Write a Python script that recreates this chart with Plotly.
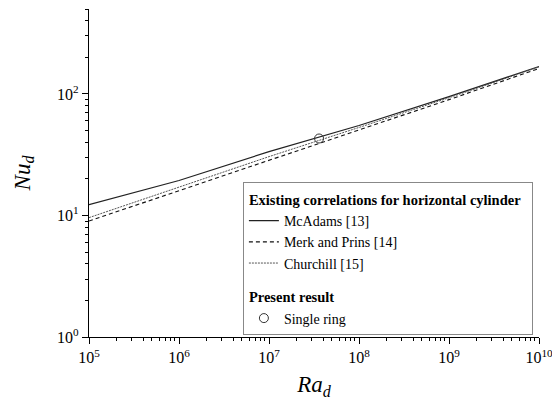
import plotly.graph_objects as go

# Data
ra = [1e5, 1e6, 1e7, 1e8, 1e9, 1e10]
nu_mcadams = [12.3, 19.4, 33.5, 55.0, 95.0, 168.0]
nu_merk = [9.0, 16.0, 28.4, 50.5, 89.8, 162.0]
nu_churchill = [9.6, 17.2, 30.5, 53.0, 93.0, 167.0]
ra_present = [3.6e7]
nu_present = [43.0]

x_tickvals = [1e5, 1e6, 1e7, 1e8, 1e9, 1e10]
x_ticktext = ["10<sup>5</sup>", "10<sup>6</sup>", "10<sup>7</sup>", "10<sup>8</sup>", "10<sup>9</sup>", "10<sup>10</sup>"]
y_tickvals = [1, 10, 100]
y_ticktext = ["10<sup>0</sup>", "10<sup>1</sup>", "10<sup>2</sup>"]

font_family = "Liberation Serif"

fig = go.Figure()
fig.add_trace(go.Scatter(
    x=ra, y=nu_mcadams, mode="lines", name="McAdams [13]",
    line=dict(color="#222222", width=1.2),
    legendgroup="a", legendgrouptitle=dict(text="<b>Existing correlations for horizontal cylinder</b>"),
))
fig.add_trace(go.Scatter(
    x=ra, y=nu_merk, mode="lines", name="Merk and Prins [14]",
    line=dict(color="#111111", width=1.1, dash="4px,3px"),
    legendgroup="a",
))
fig.add_trace(go.Scatter(
    x=ra, y=nu_churchill, mode="lines", name="Churchill [15]",
    line=dict(color="#555555", width=1.0, dash="2px,1px"),
    legendgroup="a",
))
fig.add_trace(go.Scatter(
    x=ra_present, y=nu_present, mode="markers", name="Single ring",
    marker=dict(symbol="circle-open", size=9, color="#333333", line=dict(width=1)),
    legendgroup="b", legendgrouptitle=dict(text="<b>Present result</b>"),
))

axis_common = dict(
    type="log", showgrid=False, zeroline=False, showline=True, automargin=False,
    linecolor="black", linewidth=1.2, ticks="outside", ticklen=6, tickwidth=1.2,
    tickcolor="black", tickmode="array", ticklabeloverflow="allow",
    tickfont=dict(family=font_family, size=16, color="black"), mirror=False,
    minor=dict(ticks="outside", ticklen=3, tickwidth=1, tickcolor="black", dtick="D1"),
)

fig.update_xaxes(range=[5, 10], tickvals=x_tickvals, ticktext=x_ticktext,
                 title=dict(text="<i>Ra</i><sub><i>d</i></sub>",
                            font=dict(family=font_family, size=23, color="black"), standoff=10),
                 **axis_common)
fig.update_yaxes(range=[0, 2.69897], tickvals=y_tickvals, ticktext=y_ticktext,
                 title=dict(text="<i>Nu</i><sub><i>d</i></sub>",
                            font=dict(family=font_family, size=23, color="black"), standoff=20),
                 **axis_common)

fig.update_layout(
    width=552, height=407,
    margin=dict(l=89, r=13, t=9, b=70, autoexpand=False),
    plot_bgcolor="white", paper_bgcolor="white",
    font=dict(family=font_family, color="black"),
    legend=dict(
        x=0.342, y=0.472, xanchor="left", yanchor="top",
        bordercolor="#888888", borderwidth=1, bgcolor="white",
        font=dict(family=font_family, size=14, color="black"),
        grouptitlefont=dict(family=font_family, size=14.5, color="black"),
        tracegroupgap=12, itemwidth=30,
    ),
    showlegend=True,
)

fig.write_html("out.html", config={"displayModeBar": False},
               post_script="document.body.style.margin='0px';")
